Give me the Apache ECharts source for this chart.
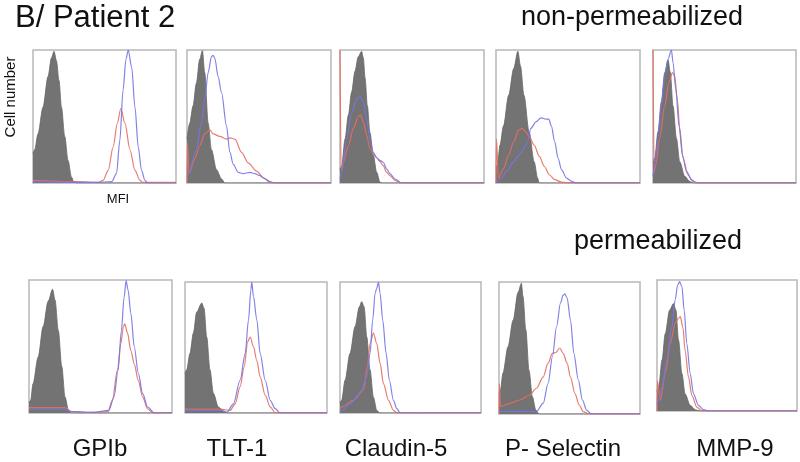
<!DOCTYPE html>
<html>
<head>
<meta charset="utf-8">
<script src="https://cdn.jsdelivr.net/npm/echarts@6/dist/echarts.min.js"></script>
<style>html,body{margin:0;padding:0;background:#fff}#c{width:800px;height:462px}</style>
</head>
<body>
<div id="c"></div>
<script>
// ---------- labels ----------
const markers = ['GPIb', 'TLT-1', 'Claudin-5', 'P- Selectin', 'MMP-9'];
const titleText = 'B/ Patient 2';
const rowTop = 'non-permeabilized';
const rowBottom = 'permeabilized';
const yLabel = 'Cell number';
const xLabel = 'MFI';

// ---------- non-permeabilized (top row): [MFI position %, cell count % of max] ----------
const gpibNPIso = [[0,22],[1.2,25],[3.5,37],[7,57],[10.5,80],[12.9,94],[14.7,99],[16.4,92],[18.2,77],[19.9,57],[22.2,35],[24.5,17],[26.9,4.5],[28.5,1],[30,0],[100,0]];
const gpibNPBlue = [[0,1],[30,0.5],[45,0.5],[55,1],[58.4,7],[60.7,32],[63,70],[65,93],[66.6,100],[69,87],[71.3,57],[73.6,27],[75.9,9.5],[78.3,2],[80,0],[100,0]];
const gpibNPRed = [[0,2],[30,1],[46,0.5],[49,2],[52.6,9.5],[56,27],[59,45],[61.4,56],[64.3,45],[67.8,25],[71.3,9.5],[74.8,2],[77,0.5],[100,0.5]];

const tlt1NPIso = [[0,33],[1.9,45],[4.2,58],[6.5,75],[8.8,93],[10.7,99.5],[12.3,83],[14.7,45],[17,25],[20.5,10],[24,3],[26.3,0],[100,0]];
const tlt1NPBlue = [[0,5],[0.7,5.5],[6.5,25],[10,45],[12.3,63],[14.7,83],[17,95],[18.1,96],[19.3,94],[21.6,80],[24,68],[27.4,43],[29.8,23],[32.1,14],[35.6,8],[39,7],[43.7,8],[47.2,7],[50.7,5.5],[54.2,3],[57.7,1],[60,0],[100,0]];
const tlt1NPRed = [[0,0],[0.3,30],[1.4,7],[5.3,18],[8.8,28],[12.3,37],[15.8,40],[18.1,37],[22.8,35],[27.4,33],[29.8,34],[33.3,33],[37.9,23],[42.6,15],[48.4,9],[53,4],[57.7,0.5],[60,0.3],[100,0.3]];

const claudinNPIso = [[0,10],[1.2,13],[3.5,33],[5.8,51],[8.1,68.5],[10.4,84],[12.7,95],[15,99],[16.2,94],[17.4,79],[19,58],[20.8,38],[23.1,21],[25.5,8],[27.8,0.5],[29,0],[100,0]];
const claudinNPBlue = [[0,3],[1.2,8],[4.6,33],[8.1,53],[11.6,63],[13.9,65],[16.2,61],[18.5,48],[20.8,33],[23.1,23],[25.5,19],[27.8,17],[30,15.6],[32.4,10.6],[34.7,7],[38.2,3],[42.8,0],[100,0]];
const claudinNPRed = [[0,100],[0.4,100],[0.8,10],[2.3,15.6],[5.8,28],[9.3,41],[12.7,50],[14.4,51],[16.2,46],[18.5,36],[20.8,26],[23.1,22],[25.5,19],[27.8,16],[30,13],[32.4,8],[34.7,5.5],[38.2,2],[41.7,0.3],[100,0.3]];

const pselNPIso = [[0,12],[1,13.6],[2.8,28.5],[5.2,43],[8.8,66],[12.3,86],[15.2,99],[17,88],[19.4,66],[23,38.5],[26.5,16],[28.9,3.7],[30,0],[100,0]];
const pselNPBlue = [[0,0],[2.8,2.5],[7.6,8.7],[12.3,16],[15.9,21],[19.4,26],[21.8,31],[24.2,41],[27.7,46],[31.3,49],[34.8,48],[36.7,48],[38.4,43],[40.8,31],[43.1,18.6],[45.5,10],[49,3.7],[52.6,1.2],[56,0],[100,0]];
const pselNPRed = [[0,0],[0.3,33],[1.7,3.7],[5.2,11],[8.8,21],[12.3,31],[15.9,40],[18.2,41],[20.6,38.5],[23,35],[26.5,28.5],[30.1,20],[33.6,12.4],[37.2,6],[40.8,2.5],[45.5,0.7],[49,0.3],[100,0.3]];

const mmpNPIso = [[0,15],[1.2,18.6],[3.5,38.5],[5.8,61],[8.2,83],[10.5,92.6],[12.1,83],[14,58],[16.4,33.5],[18.7,16],[22.2,5],[25.7,1.2],[28,0],[100,0]];
const mmpNPBlue = [[0,5],[1.2,13.6],[3.5,33.5],[5.8,58],[8.2,80.6],[10.5,93],[12.9,100],[14,90.6],[15.9,70.7],[18.2,43],[20.6,21],[23.4,8.7],[26.9,2.5],[30.4,0],[100,0]];
const mmpNPRed = [[0,100],[0.4,100],[0.8,8],[1.9,13.6],[4.7,33.5],[8.2,58],[11.2,75.7],[13.6,83],[15.2,80.6],[17,63],[18.7,41],[21,18.6],[24.5,6],[28,1.2],[31.5,0.3],[100,0.3]];

// ---------- permeabilized (bottom row) ----------
const gpibPIso = [[0,8],[1.2,9.5],[2.8,22],[6.4,42],[9.9,65],[13.4,84],[16.5,93],[18.2,85],[20.5,62],[22.9,35],[25.2,12],[27.6,2],[29.2,0],[100,0]];
const gpibPBlue = [[0,3],[25,3],[30,1],[45,0.5],[55.9,2],[59.4,12],[62.3,32],[64.6,62],[66.5,87],[67.9,99.5],[69.3,92.5],[71.2,75],[73.6,50],[76.4,30],[79.5,14.6],[83,4.5],[87.7,0],[100,0]];
const gpibPRed = [[0,4],[25,4],[30,1],[45,0.5],[55.2,1],[58.3,9.5],[61.8,32],[64.2,52],[66,65],[67,67],[68.9,60],[71.2,47],[73.6,37],[76.4,24.6],[79.5,12],[83,3],[86.6,0.3],[100,0.3]];

const tlt1PIso = [[0,30],[1.2,33],[3.5,45.5],[5.9,61],[8.2,77],[11.8,84],[13.4,80],[15.3,58],[17.6,33],[20,15],[23.5,4.6],[27,1.5],[30.6,0],[100,0]];
const tlt1PBlue = [[0,2],[25,2],[29.4,0.5],[34.1,7],[38.8,25],[42.4,45.5],[44.7,71],[46.4,94],[47,100],[48.2,89],[50.6,71],[52.9,45.5],[56.5,25],[60,9.7],[63.5,3.3],[67,0],[100,0]];
const tlt1PRed = [[0,3],[25,3],[31.8,2],[35.3,7],[38.8,20],[41.6,35],[44.2,54.5],[45.9,58],[48.2,50.6],[50.6,40],[52.9,27.6],[56.5,13.6],[60,4.6],[63.5,0.3],[100,0.3]];

const claudinPIso = [[0,8],[1.2,9.7],[3.6,25],[7.1,45.5],[10.7,66],[13.7,81],[15.4,85],[17.1,81],[19,58],[21.3,33],[23.7,12],[26.1,2],[28.4,0],[100,0]];
const claudinPBlue = [[0,1],[1.2,2],[7.1,7],[14.2,15],[19,27.6],[21.3,45.5],[23.2,71],[24.9,91.6],[26,95],[27.3,100],[28.4,91.6],[30.3,71],[32.7,45.5],[35,25],[37.9,9.7],[40.3,3.3],[42.7,0],[100,0]];
const claudinPRed = [[0,3],[1.2,4.6],[9.5,9.7],[16.6,17.4],[19.4,35],[21.3,53],[23.7,61],[26.1,53],[28.4,38],[30.8,22.5],[34.4,9.7],[37.9,2],[40.3,0.3],[100,0.3]];

const pselPIso = [[0,16],[1,18],[2.8,31],[6.4,51],[10,71],[13.5,92],[15.9,99],[17,89],[19,64],[21.3,33],[23.7,13],[26.1,3],[28.4,0],[100,0]];
const pselPBlue = [[0,2],[25,2],[26.5,1.8],[31.3,8],[34.8,23],[37.9,43.5],[40.8,66],[43.6,84],[45.5,90],[46.7,91],[48.3,88],[50.7,71],[53.1,46],[56.2,26],[59.2,10.6],[62.1,3],[65.6,0],[100,0]];
const pselPRed = [[0,0],[0.3,23],[1,5.6],[7.6,8],[14.7,10.6],[21.8,14.4],[26.5,19.5],[31.3,28],[34.8,38.5],[37.9,46],[40.3,46.6],[43.1,50],[45.5,46],[48.3,38.5],[50.7,28],[53.8,15.7],[56.9,6.8],[59.7,1.8],[63.3,0.3],[100,0.3]];

const mmpPIso = [[0,15],[1.2,18],[3.6,39],[5.9,59],[9,77],[11.8,82],[13.5,77],[15.4,54],[17.8,28.6],[20.1,13],[23.7,4.3],[27.3,1],[30.8,0],[100,0]];
const mmpPBlue = [[0,5],[1.2,8],[3.6,18],[7.1,39],[10.7,64],[13,85],[14.7,96],[16.1,98.7],[17.8,95],[19.4,77],[21.3,51.5],[23.7,28.6],[26.1,13],[29.6,4.3],[33.2,1],[36.7,0],[100,0]];
const mmpPRed = [[0,0],[0.3,23],[2.4,8],[5.9,28.6],[9.5,51.5],[13,67],[15.4,70.7],[16.6,72],[18.5,64],[20.1,46],[22.5,26],[24.9,12],[28.4,3],[32,0.3],[100,0.3]];

// ---------- assemble ----------
const panelData = [
  [gpibNPIso, gpibNPBlue, gpibNPRed], [tlt1NPIso, tlt1NPBlue, tlt1NPRed], [claudinNPIso, claudinNPBlue, claudinNPRed],
  [pselNPIso, pselNPBlue, pselNPRed], [mmpNPIso, mmpNPBlue, mmpNPRed],
  [gpibPIso, gpibPBlue, gpibPRed], [tlt1PIso, tlt1PBlue, tlt1PRed], [claudinPIso, claudinPBlue, claudinPRed],
  [pselPIso, pselPBlue, pselPRed], [mmpPIso, mmpPBlue, mmpPRed]
];
const boxes = [
  [33,50,143,133],[187,50,144,133],[340,50,144,133],[496,50,144,133],[653,50,143,133],
  [29,280,143,133],[185,282,142,131],[340,282,141,131],[499,282,141,132],[657,280,140,131]
];
const labelX = [100, 237, 396, 563, 735];

const FONT = '"Liberation Sans", Arial, Helvetica, sans-serif';
const grids = [], xAxes = [], yAxes = [], series = [];
boxes.forEach((b, i) => {
  grids.push({left: b[0], top: b[1], width: b[2], height: b[3], show: true,
    borderColor: '#b8b8b8', borderWidth: 1.5, backgroundColor: '#fff', containLabel: false});
  xAxes.push({type: 'value', gridIndex: i, min: 0, max: 100, show: false});
  yAxes.push({type: 'value', gridIndex: i, min: 0, max: 100, show: false});
  const [iso, blue, red] = panelData[i];
  series.push({type: 'line', xAxisIndex: i, yAxisIndex: i, data: iso, symbol: 'none', smooth: 0.3,
    smoothMonotone: 'x', lineStyle: {width: 0.8, color: '#666'}, areaStyle: {color: '#737373', opacity: 1}, z: 2});
  series.push({type: 'line', xAxisIndex: i, yAxisIndex: i, data: red, symbol: 'none', smooth: 0.3,
    smoothMonotone: 'x', lineStyle: {width: 1.2, color: '#e46f62', opacity: 0.9}, z: 3});
  series.push({type: 'line', xAxisIndex: i, yAxisIndex: i, data: blue, symbol: 'none', smooth: 0.3,
    smoothMonotone: 'x', lineStyle: {width: 1.2, color: '#7575e4', opacity: 0.9}, z: 4});
});

const graphics = [
  {type: 'text', left: 15, top: 3, style: {text: titleText, font: '31px ' + FONT, fill: '#111'}},
  {type: 'text', x: 632, y: 18, style: {text: rowTop, font: '27px ' + FONT, fill: '#111', textAlign: 'center', textVerticalAlign: 'middle'}},
  {type: 'text', x: 658, y: 242, style: {text: rowBottom, font: '27px ' + FONT, fill: '#111', textAlign: 'center', textVerticalAlign: 'middle'}},
  {type: 'text', x: 11, y: 97, rotation: Math.PI / 2, style: {text: yLabel, font: '15px ' + FONT, fill: '#111', textAlign: 'center', textVerticalAlign: 'middle'}},
  {type: 'text', x: 118, y: 199, style: {text: xLabel, font: '13px ' + FONT, fill: '#111', textAlign: 'center', textVerticalAlign: 'middle'}}
];
markers.forEach((m, i) => {
  graphics.push({type: 'text', x: labelX[i], y: 449, style: {text: m, font: '24px ' + FONT, fill: '#111', textAlign: 'center', textVerticalAlign: 'middle'}});
});

const chart = echarts.init(document.getElementById('c'), null, {renderer: 'canvas'});
chart.setOption({
  animation: false,
  backgroundColor: '#fff',
  grid: grids, xAxis: xAxes, yAxis: yAxes, series: series,
  graphic: graphics
});
</script>
</body>
</html>
